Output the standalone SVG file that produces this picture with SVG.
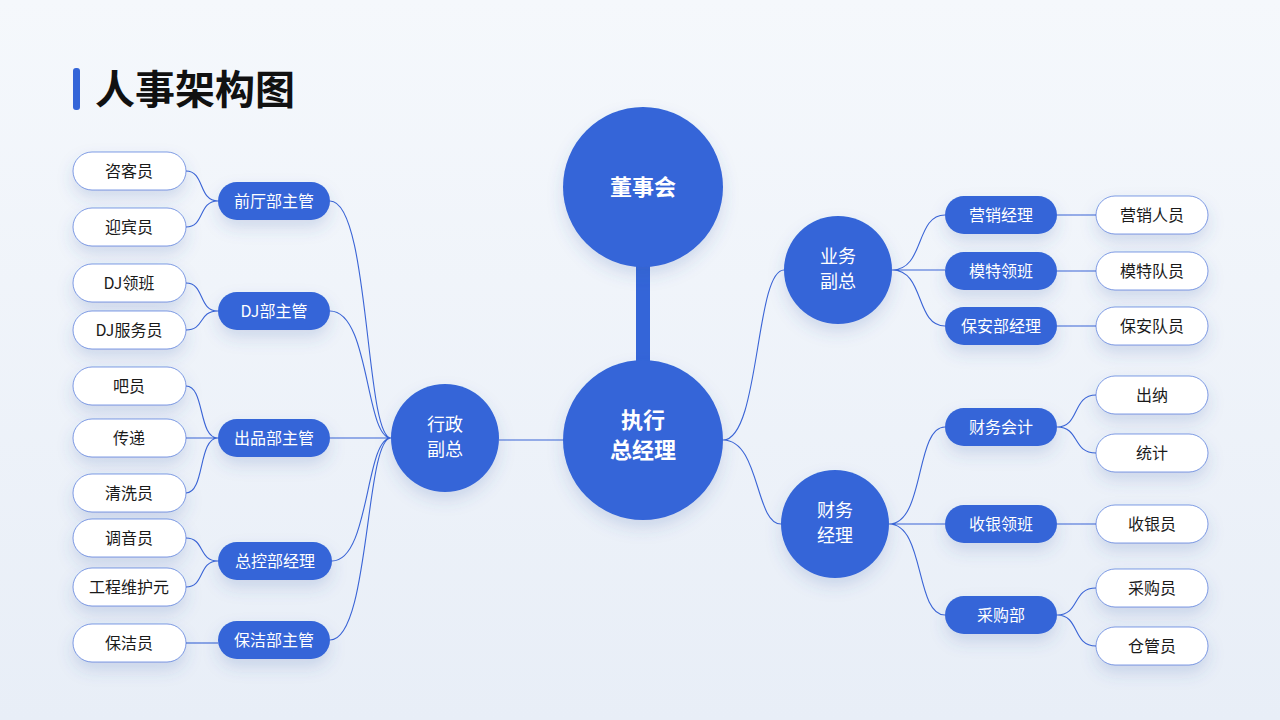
<svg xmlns="http://www.w3.org/2000/svg" width="1280" height="720" viewBox="0 0 1280 720">
<defs>
<linearGradient id="bg" x1="0" y1="0" x2="0" y2="1"><stop offset="0" stop-color="#f5f8fc"/><stop offset="1" stop-color="#e8eef7"/></linearGradient>
<filter id="sh" x="-30%" y="-40%" width="160%" height="220%"><feDropShadow dx="0" dy="8" stdDeviation="8" flood-color="#3a5aa8" flood-opacity="0.18"/></filter>
<style>
.w{fill:#fff;stroke:#3a64d6;stroke-width:0.8;stroke-opacity:0.8;filter:url(#sh)}
.b{fill:#3465d8;filter:url(#sh)}
.c{fill:#3465d8;filter:url(#sh)}
.tw{font-family:"Noto Sans CJK SC","Noto Sans",sans-serif;font-size:16px;fill:#1a1a1a;text-anchor:middle}
.tb{font-family:"Noto Sans CJK SC","Noto Sans",sans-serif;font-size:16px;fill:#fff;text-anchor:middle}
.tc{font-family:"Noto Sans CJK SC","Noto Sans",sans-serif;font-size:18px;fill:#fff;text-anchor:middle}
.tbig{font-family:"Noto Sans CJK SC","Noto Sans",sans-serif;font-size:22px;font-weight:bold;fill:#fff;text-anchor:middle}
.l{fill:none;stroke:#3a64d6;stroke-width:1.1}
</style>
</defs>
<rect width="1280" height="720" fill="url(#bg)"/>
<g id="title"><rect x="73" y="68" width="7" height="42" rx="3" fill="#3465d8"/><text x="95" y="104" font-family="Noto Sans CJK SC,sans-serif" font-size="40" font-weight="bold" fill="#111">人事架构图</text></g>
<g id="connectors">
<rect x="636" y="262" width="14" height="102" fill="#3465d8"/>
<path class="l" d="M186 171C205 171 198 201 218 201M186 227C205 227 198 201 218 201"/>
<path class="l" d="M186 283C205 283 198 311 218 311M186 330C205 330 198 311 218 311"/>
<path class="l" d="M186 386C205 386 198 438 218 438M186 438H218M186 493C205 493 198 438 218 438"/>
<path class="l" d="M186 538C205 538 198 561 218 561M186 587C205 587 198 561 218 561"/>
<path class="l" d="M186 643H218"/>
<path class="l" d="M330 201C370 201 365 438 391 438M330 311C370 311 365 438 391 438M330 438H391M332 561C370 561 365 438 391 438M330 640C370 640 365 438 391 438"/>
<path class="l" d="M499 440L563 440"/>
<path class="l" d="M723 440C760 440 755 270 784 270M723 440C760 440 755 524 781 524"/>
<path class="l" d="M892 270C925 270 915 215 945 215M892 270H945M892 270C925 270 915 326 945 326"/>
<path class="l" d="M889 524C925 524 915 427 945 427M889 524H945M889 524C925 524 915 615 945 615"/>
<path class="l" d="M1057 215H1096M1057 271H1096M1057 326H1096M1057 524H1096"/>
<path class="l" d="M1057 427C1080 427 1072 395 1096 395M1057 427C1080 427 1072 453 1096 453"/>
<path class="l" d="M1057 615C1080 615 1072 588 1096 588M1057 615C1080 615 1072 646 1096 646"/>
</g>
<g id="n-dongshihui"><circle class="c" cx="643" cy="187" r="80"/><text class="tbig" x="643" y="195">董事会</text></g>
<g id="n-zhixing"><circle class="c" cx="643" cy="440" r="80"/><text class="tbig" x="643" y="428">执行</text><text class="tbig" x="643" y="458">总经理</text></g>
<g id="n-xingzheng"><circle class="c" cx="445" cy="438" r="54"/><text class="tc" x="445" y="431">行政</text><text class="tc" x="445" y="456">副总</text></g>
<g id="n-yewu"><circle class="c" cx="838" cy="270" r="54"/><text class="tc" x="838" y="263">业务</text><text class="tc" x="838" y="288">副总</text></g>
<g id="n-caiwu"><circle class="c" cx="835" cy="524" r="54"/><text class="tc" x="835" y="517">财务</text><text class="tc" x="835" y="542">经理</text></g>
<g id="n-qianting"><rect class="b" x="218" y="182" width="112" height="38" rx="19"/><text class="tb" x="274" y="207">前厅部主管</text></g>
<g id="n-dj"><rect class="b" x="218" y="292" width="112" height="38" rx="19"/><text class="tb" x="274" y="317">DJ部主管</text></g>
<g id="n-chupin"><rect class="b" x="218" y="419" width="112" height="38" rx="19"/><text class="tb" x="274" y="444">出品部主管</text></g>
<g id="n-zongkong"><rect class="b" x="218" y="542" width="114" height="38" rx="19"/><text class="tb" x="275" y="567">总控部经理</text></g>
<g id="n-baojie"><rect class="b" x="218" y="621" width="112" height="38" rx="19"/><text class="tb" x="274" y="646">保洁部主管</text></g>
<g id="n-zike"><rect class="w" x="73" y="152" width="113" height="38" rx="19"/><text class="tw" x="129" y="177">咨客员</text></g>
<g id="n-yingbin"><rect class="w" x="73" y="208" width="113" height="38" rx="19"/><text class="tw" x="129" y="233">迎宾员</text></g>
<g id="n-djlb"><rect class="w" x="73" y="264" width="113" height="38" rx="19"/><text class="tw" x="129" y="289">DJ领班</text></g>
<g id="n-djfw"><rect class="w" x="73" y="311" width="113" height="38" rx="19"/><text class="tw" x="129" y="336">DJ服务员</text></g>
<g id="n-ba"><rect class="w" x="73" y="367" width="113" height="38" rx="19"/><text class="tw" x="129" y="392">吧员</text></g>
<g id="n-chuandi"><rect class="w" x="73" y="419" width="113" height="38" rx="19"/><text class="tw" x="129" y="444">传递</text></g>
<g id="n-qingxi"><rect class="w" x="73" y="474" width="113" height="38" rx="19"/><text class="tw" x="129" y="499">清洗员</text></g>
<g id="n-tiaoyin"><rect class="w" x="73" y="519" width="113" height="38" rx="19"/><text class="tw" x="129" y="544">调音员</text></g>
<g id="n-gongcheng"><rect class="w" x="73" y="568" width="113" height="38" rx="19"/><text class="tw" x="129" y="593">工程维护元</text></g>
<g id="n-baojieyuan"><rect class="w" x="73" y="624" width="113" height="38" rx="19"/><text class="tw" x="129" y="649">保洁员</text></g>
<g id="n-yingxiao"><rect class="b" x="945" y="196" width="112" height="38" rx="19"/><text class="tb" x="1001" y="221">营销经理</text></g>
<g id="n-mote"><rect class="b" x="945" y="252" width="112" height="38" rx="19"/><text class="tb" x="1001" y="277">模特领班</text></g>
<g id="n-baoan"><rect class="b" x="945" y="307" width="112" height="38" rx="19"/><text class="tb" x="1001" y="332">保安部经理</text></g>
<g id="n-kuaiji"><rect class="b" x="945" y="408" width="112" height="38" rx="19"/><text class="tb" x="1001" y="433">财务会计</text></g>
<g id="n-shouyinlb"><rect class="b" x="945" y="505" width="112" height="38" rx="19"/><text class="tb" x="1001" y="530">收银领班</text></g>
<g id="n-caigoubu"><rect class="b" x="945" y="596" width="112" height="38" rx="19"/><text class="tb" x="1001" y="621">采购部</text></g>
<g id="n-yxry"><rect class="w" x="1096" y="196" width="112" height="38" rx="19"/><text class="tw" x="1152" y="221">营销人员</text></g>
<g id="n-mtdy"><rect class="w" x="1096" y="252" width="112" height="38" rx="19"/><text class="tw" x="1152" y="277">模特队员</text></g>
<g id="n-bady"><rect class="w" x="1096" y="307" width="112" height="38" rx="19"/><text class="tw" x="1152" y="332">保安队员</text></g>
<g id="n-chuna"><rect class="w" x="1096" y="376" width="112" height="38" rx="19"/><text class="tw" x="1152" y="401">出纳</text></g>
<g id="n-tongji"><rect class="w" x="1096" y="434" width="112" height="38" rx="19"/><text class="tw" x="1152" y="459">统计</text></g>
<g id="n-shouyin"><rect class="w" x="1096" y="505" width="112" height="38" rx="19"/><text class="tw" x="1152" y="530">收银员</text></g>
<g id="n-caigouyuan"><rect class="w" x="1096" y="569" width="112" height="38" rx="19"/><text class="tw" x="1152" y="594">采购员</text></g>
<g id="n-cangguan"><rect class="w" x="1096" y="627" width="112" height="38" rx="19"/><text class="tw" x="1152" y="652">仓管员</text></g>
</svg>
